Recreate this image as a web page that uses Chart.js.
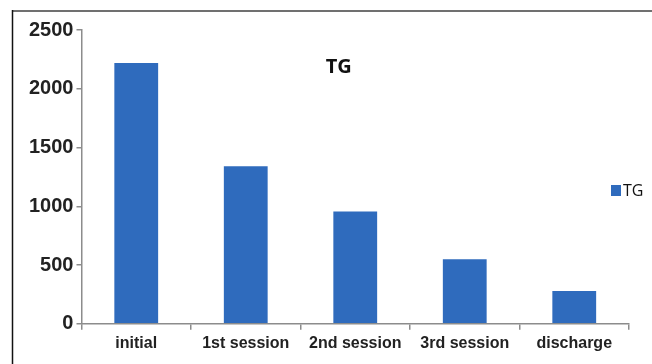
<!DOCTYPE html>
<html>
<head>
<meta charset="utf-8">
<script src="https://cdn.jsdelivr.net/npm/chart.js@4/dist/chart.umd.min.js"></script>
<style>
  html, body { margin: 0; padding: 0; background: #fff; }
  #wrap { position: relative; width: 652px; height: 364px; }
</style>
</head>
<body>
<div id="wrap"><canvas id="c" width="652" height="364"></canvas></div>
<script>
// Triglyceride (TG) level at each stage
const categories = ['initial', '1st session', '2nd session', '3rd session', 'discharge'];
const tgValues = [2220, 1340, 955, 550, 280];
const seriesName = 'TG';
const chartTitle = 'TG';
const yMin = 0, yMax = 2500, yStep = 500;

const barColor = '#2f6bbd';

// Frame lines, title and a small legend drawn inside the plot
const decorations = {
  id: 'decorations',
  beforeDraw(chart) {
    const ctx = chart.ctx;
    ctx.save();
    ctx.fillStyle = '#fff';
    ctx.fillRect(0, 0, chart.width, chart.height);
    // top rule
    ctx.strokeStyle = '#707070';
    ctx.lineWidth = 2;
    ctx.beginPath();
    ctx.moveTo(12, 11);
    ctx.lineTo(chart.width, 11);
    ctx.stroke();
    // left rule
    ctx.strokeStyle = '#111';
    ctx.lineWidth = 1.5;
    ctx.beginPath();
    ctx.moveTo(12.5, 10);
    ctx.lineTo(12.5, chart.height);
    ctx.stroke();
    ctx.restore();
  },
  afterDraw(chart) {
    const ctx = chart.ctx;
    const area = chart.chartArea;
    ctx.save();
    // title
    ctx.fillStyle = '#111';
    ctx.font = 'bold 20px "Open Sans", sans-serif';
    ctx.textAlign = 'center';
    ctx.textBaseline = 'middle';
    ctx.fillText(chartTitle, area.left + (area.right - area.left) * 0.47, area.top + 37);
    // legend
    const ds = chart.data.datasets[0];
    const lx = area.right - 18, ly = area.top + 155;
    ctx.fillStyle = ds.backgroundColor;
    ctx.fillRect(lx, ly, 10, 11);
    ctx.fillStyle = '#111';
    ctx.font = '16px "Open Sans", sans-serif';
    ctx.textAlign = 'left';
    ctx.fillText(ds.label, lx + 12, ly + 6);
    ctx.restore();
  }
};

new Chart(document.getElementById('c'), {
  type: 'bar',
  data: {
    labels: categories,
    datasets: [{
      label: seriesName,
      data: tgValues,
      backgroundColor: barColor,
      borderWidth: 0,
      barPercentage: 0.8,
      categoryPercentage: 0.5
    }]
  },
  options: {
    responsive: false,
    animation: false,
    layout: { padding: { left: 26, right: 23, top: 30, bottom: 7 } },
    plugins: {
      legend: { display: false },
      title: { display: false },
      tooltip: { enabled: false }
    },
    scales: {
      x: {
        grid: {
          display: true,
          drawOnChartArea: false,
          drawTicks: true,
          tickLength: 6,
          color: '#8c8c8c',
          lineWidth: 1.5
        },
        border: { display: true, color: '#8c8c8c', width: 1.5 },
        ticks: {
          color: '#222',
          padding: 4,
          maxRotation: 0,
          font: { family: '"Liberation Sans", Arial, sans-serif', size: 16, weight: 'bold' }
        }
      },
      y: {
        min: yMin,
        max: yMax,
        grid: {
          display: true,
          drawOnChartArea: false,
          drawTicks: true,
          tickLength: 5,
          color: '#8c8c8c',
          lineWidth: 1.5
        },
        border: { display: true, color: '#8c8c8c', width: 1.5 },
        ticks: {
          stepSize: yStep,
          color: '#222',
          padding: 3,
          callback: (v) => String(v),
          font: { family: '"Liberation Sans", Arial, sans-serif', size: 20, weight: 'bold' }
        }
      }
    }
  },
  plugins: [decorations]
});
</script>
</body>
</html>
